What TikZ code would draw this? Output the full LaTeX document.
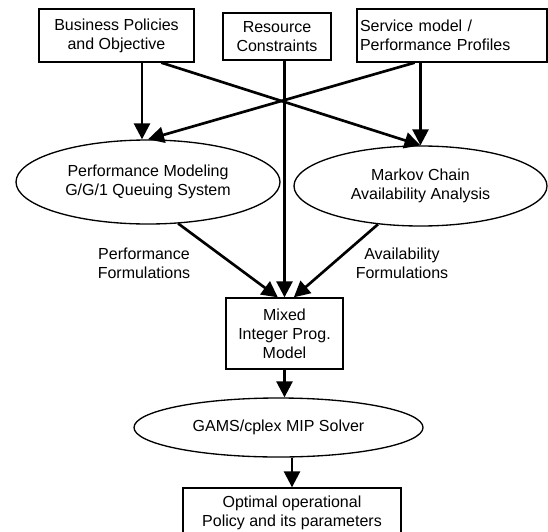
\documentclass[tikz,border=0pt]{standalone}
\usepackage{fontspec}
\setmainfont{Liberation Sans}
\usetikzlibrary{arrows.meta,shapes.geometric}

\begin{document}
\begin{tikzpicture}[x=0.75pt,y=0.75pt,yscale=-1,xscale=1,
    every node/.style={font=\fontsize{12pt}{14.25pt}\selectfont, align=center},
    box/.style={draw, line width=1pt, inner sep=1pt},
    oval/.style={draw, ellipse, line width=1pt, inner sep=0pt},
    flow/.style={line width=2pt, -{Triangle[length=12pt,width=12pt]}}]
    \useasboundingbox (0,0) rectangle (548,531);
    \clip (0,0) rectangle (548,531);
    
    %Shape: Rectangle [id:inputs] 
    \node [box, minimum width=116.25pt, minimum height=39.75pt] (biz) at (116.5,35.5) {Business Policies\\and Objective};
    \node [box, minimum width=81pt, minimum height=35.25pt] (res) at (277,36.5) {Resource\\Constraints};
    \node [box, minimum height=39.75pt, text width=138pt, align=left, inner xsep=2.25pt] (svc) at (452,35.5) {Service model /\\Performance Profiles};
    %Shape: Ellipse [id:models] 
    \node [oval, minimum width=198pt, minimum height=63pt] (perf) at (148,182) {Performance Modeling\\G/G/1 Queuing System};
    \node [oval, minimum width=189.75pt, minimum height=60pt] (mark) at (420.5,186) {Markov Chain\\Availability Analysis};
    %Shape: Rectangle [id:mip] 
    \node [box, minimum width=87.75pt, minimum height=53.25pt] (mip) at (284.5,333.5) {Mixed\\Integer Prog.\\Model};
    %Shape: Ellipse [id:solver] 
    \node [oval, minimum width=216.75pt, minimum height=44.25pt] (gams) at (278.5,427.5) {GAMS/cplex MIP Solver};
    %Shape: Rectangle [id:result] 
    \node [box, minimum width=163.5pt, minimum height=36.75pt] (opt) at (292,512.5) {Optimal operational\\Policy and its parameters};
    
    % Text Node
    \node (perflbl) at (144,263) {Performance\\Formulations};
    % Text Node
    \node (availlbl) at (402,263) {Availability\\Formulations};
    
    %Straight Lines [id:inputs to models] 
    \draw [flow] ([xshift=-4.5pt]perf.north |- biz.south) -- ([xshift=-4.5pt]perf.north);
    \draw [flow] ([xshift=-25pt]biz.south east) -- (mark.north);
    \draw [flow] ([xshift=-28pt]svc.south) -- (perf.north);
    \draw [flow] (svc.south -| mark.north) -- (mark.north);
    %Straight Lines [id:into mip] 
    \draw [flow] (res.south -| mip.north) -- (mip.north);
    \draw [flow] (perf.-54) -- ([xshift=-5pt]mip.north);
    \draw [flow] (mark.-138) -- ([xshift=7pt]mip.north);
    %Straight Lines [id:down the chain] 
    \draw [flow] (mip.south) -- (mip.south |- gams.north);
    \draw [flow] (opt.north |- gams.south) -- (opt.north);
    
\end{tikzpicture}
\end{document}
